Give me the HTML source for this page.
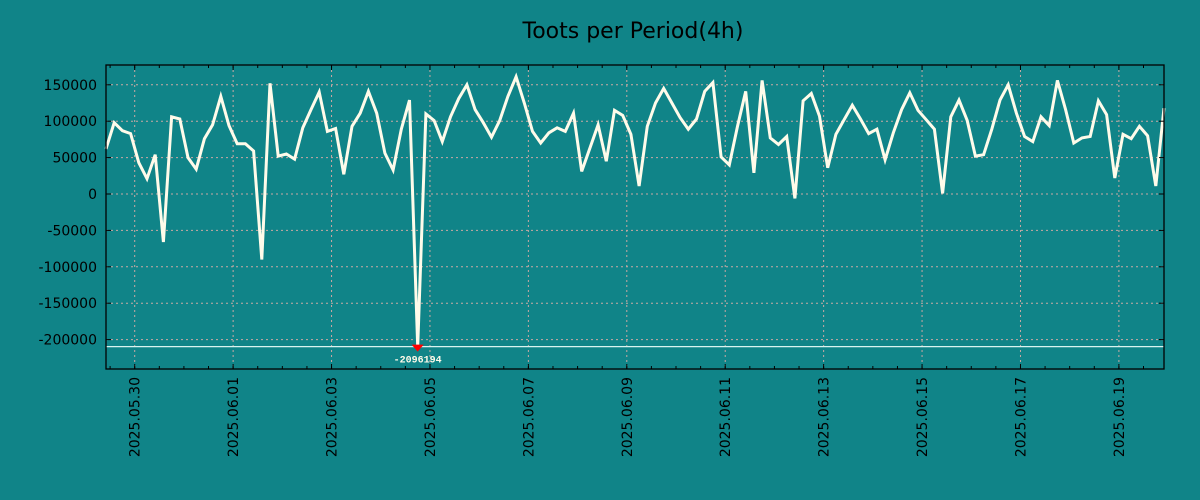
<!DOCTYPE html>
<html><head><meta charset="utf-8"><style>
html,body{margin:0;padding:0;background:#108488;}
svg{display:block;font-family:"DejaVu Sans","Liberation Sans",sans-serif;}
</style></head><body>
<svg id="chart" width="1200" height="500" viewBox="0 0 1200 500" xmlns="http://www.w3.org/2000/svg">
<rect x="0" y="0" width="1200" height="500" fill="#108488"/>
<text x="633" y="38" text-anchor="middle" font-size="22" fill="#000">Toots per Period(4h)</text>
<g id="grid"></g><g id="series"></g><g id="axes"></g>
</svg>
<script>
const startLabel = "2025-05-29T10:00";
const stepHours = 4;
const tootValues = [62000,98000,87000,83000,43000,21000,54000,-66000,106000,103000,50000,34000,76000,95000,134000,94000,69000,69000,59000,-90000,152000,52000,55000,48000,91000,116000,140000,86000,90000,27000,93000,111000,141000,111000,56000,33000,89000,129000,-209619,110000,101000,72000,106000,131000,150000,116000,98000,78000,101000,134000,161000,125000,86000,70000,84000,91000,86000,111000,31000,63000,95000,45000,115000,108000,82000,11000,93000,125000,145000,125000,105000,89000,103000,141000,153000,51000,40000,93000,141000,29000,156000,77000,68000,79000,-6000,128000,138000,107000,36000,82000,102000,122000,103000,83000,89000,47000,84000,116000,139000,115000,102000,89000,1000,106000,129000,101000,52000,54000,89000,129000,150000,111000,79000,72000,106000,94000,156000,116000,70000,77000,79000,128000,109000,22000,82000,76000,93000,80000,11000,118000];
const yTicks = [150000,100000,50000,0,-50000,-100000,-150000,-200000];
const dateLabels = ["2025.05.30","2025.06.01","2025.06.03","2025.06.05","2025.06.07","2025.06.09","2025.06.11","2025.06.13","2025.06.15","2025.06.17","2025.06.19"];
const minLabel = "-2096194";

const NS="http://www.w3.org/2000/svg";
const L=106,R=1164,T=65,B=369;
const totalH=(tootValues.length-1)*stepHours;
const t0=Date.parse(startLabel+":00Z");
function xH(h){return L+(h/totalH)*(R-L);}
function xDate(s){const p=s.split('.');const t=Date.parse(p[0]+'-'+p[1]+'-'+p[2]+'T00:00:00Z');return xH((t-t0)/3600000);}
function y(v){return 194-(v/50000)*36.4;}
function mk(tag,attrs,parent){const e=document.createElementNS(NS,tag);for(const k in attrs)e.setAttribute(k,attrs[k]);parent.appendChild(e);return e;}
const grid=document.getElementById('grid'),series=document.getElementById('series'),axes=document.getElementById('axes');

mk('rect',{x:L,y:T,width:R-L,height:B-T,fill:'#108488'},grid);
yTicks.forEach(v=>{
  const g=mk('line',{x1:L,x2:R,y1:y(v),y2:y(v),stroke:'#c9a9a4','stroke-width':1,'stroke-dasharray':'2,3'},grid);
  
  
  const t=mk('text',{x:97,y:y(v)+5,'text-anchor':'end','font-size':14,fill:'#000'},axes);
  t.textContent=String(v);
  
  
  mk('line',{x1:L,x2:L+5,y1:y(v),y2:y(v),stroke:'#000'},axes);
  mk('line',{x1:R,x2:R-5,y1:y(v),y2:y(v),stroke:'#000'},axes);
});
dateLabels.forEach(d=>{
  const x=xDate(d);
  const g=mk('line',{x1:x,x2:x,y1:T,y2:B,stroke:'#c9a9a4','stroke-width':1,'stroke-dasharray':'2,3'},grid);
  
  
  mk('line',{x1:x,x2:x,y1:B,y2:B-5,stroke:'#000'},axes);
  mk('line',{x1:x,x2:x,y1:T,y2:T+5,stroke:'#000'},axes);
  const t=mk('text',{x:0,y:0,'text-anchor':'end','font-size':14,fill:'#000',transform:`translate(${x+5},377) rotate(-90)`},axes);
  t.textContent=d;
  
  
});
for(let h=2;h<=totalH;h+=12){
  const x=xH(h);
  mk('line',{x1:x,x2:x,y1:B,y2:B-3,stroke:'#000'},axes);
  mk('line',{x1:x,x2:x,y1:T,y2:T+3,stroke:'#000'},axes);
}
let minV=Infinity,minI=0;
tootValues.forEach((v,i)=>{if(v<minV){minV=v;minI=i;}});
const ml=mk('line',{x1:L,x2:R,y1:y(minV),y2:y(minV),stroke:'#d8f4f0','stroke-width':1.2},series);


const pts=tootValues.map((v,i)=>xH(i*stepHours).toFixed(1)+','+y(v).toFixed(1)).join(' ');
const line=mk('polyline',{points:pts,fill:'none',stroke:'#fffbea','stroke-width':3,'stroke-linejoin':'miter'},series);


const mx=xH(minI*stepHours),my=y(minV);
const mm=mk('polygon',{points:`${mx-6},${my-2} ${mx+6},${my-2} ${mx},${my+5}`,fill:'#ff0000'},series);


const mt=mk('text',{x:mx,y:my+16,'text-anchor':'middle','font-size':10,'font-weight':'bold','font-family':'Liberation Mono, monospace',fill:'#fffbea'},series);
mt.textContent=minLabel;


const fr=mk('rect',{x:L,y:T,width:R-L,height:B-T,fill:'none',stroke:'#000','stroke-width':1.3},axes);


</script>
</body></html>
